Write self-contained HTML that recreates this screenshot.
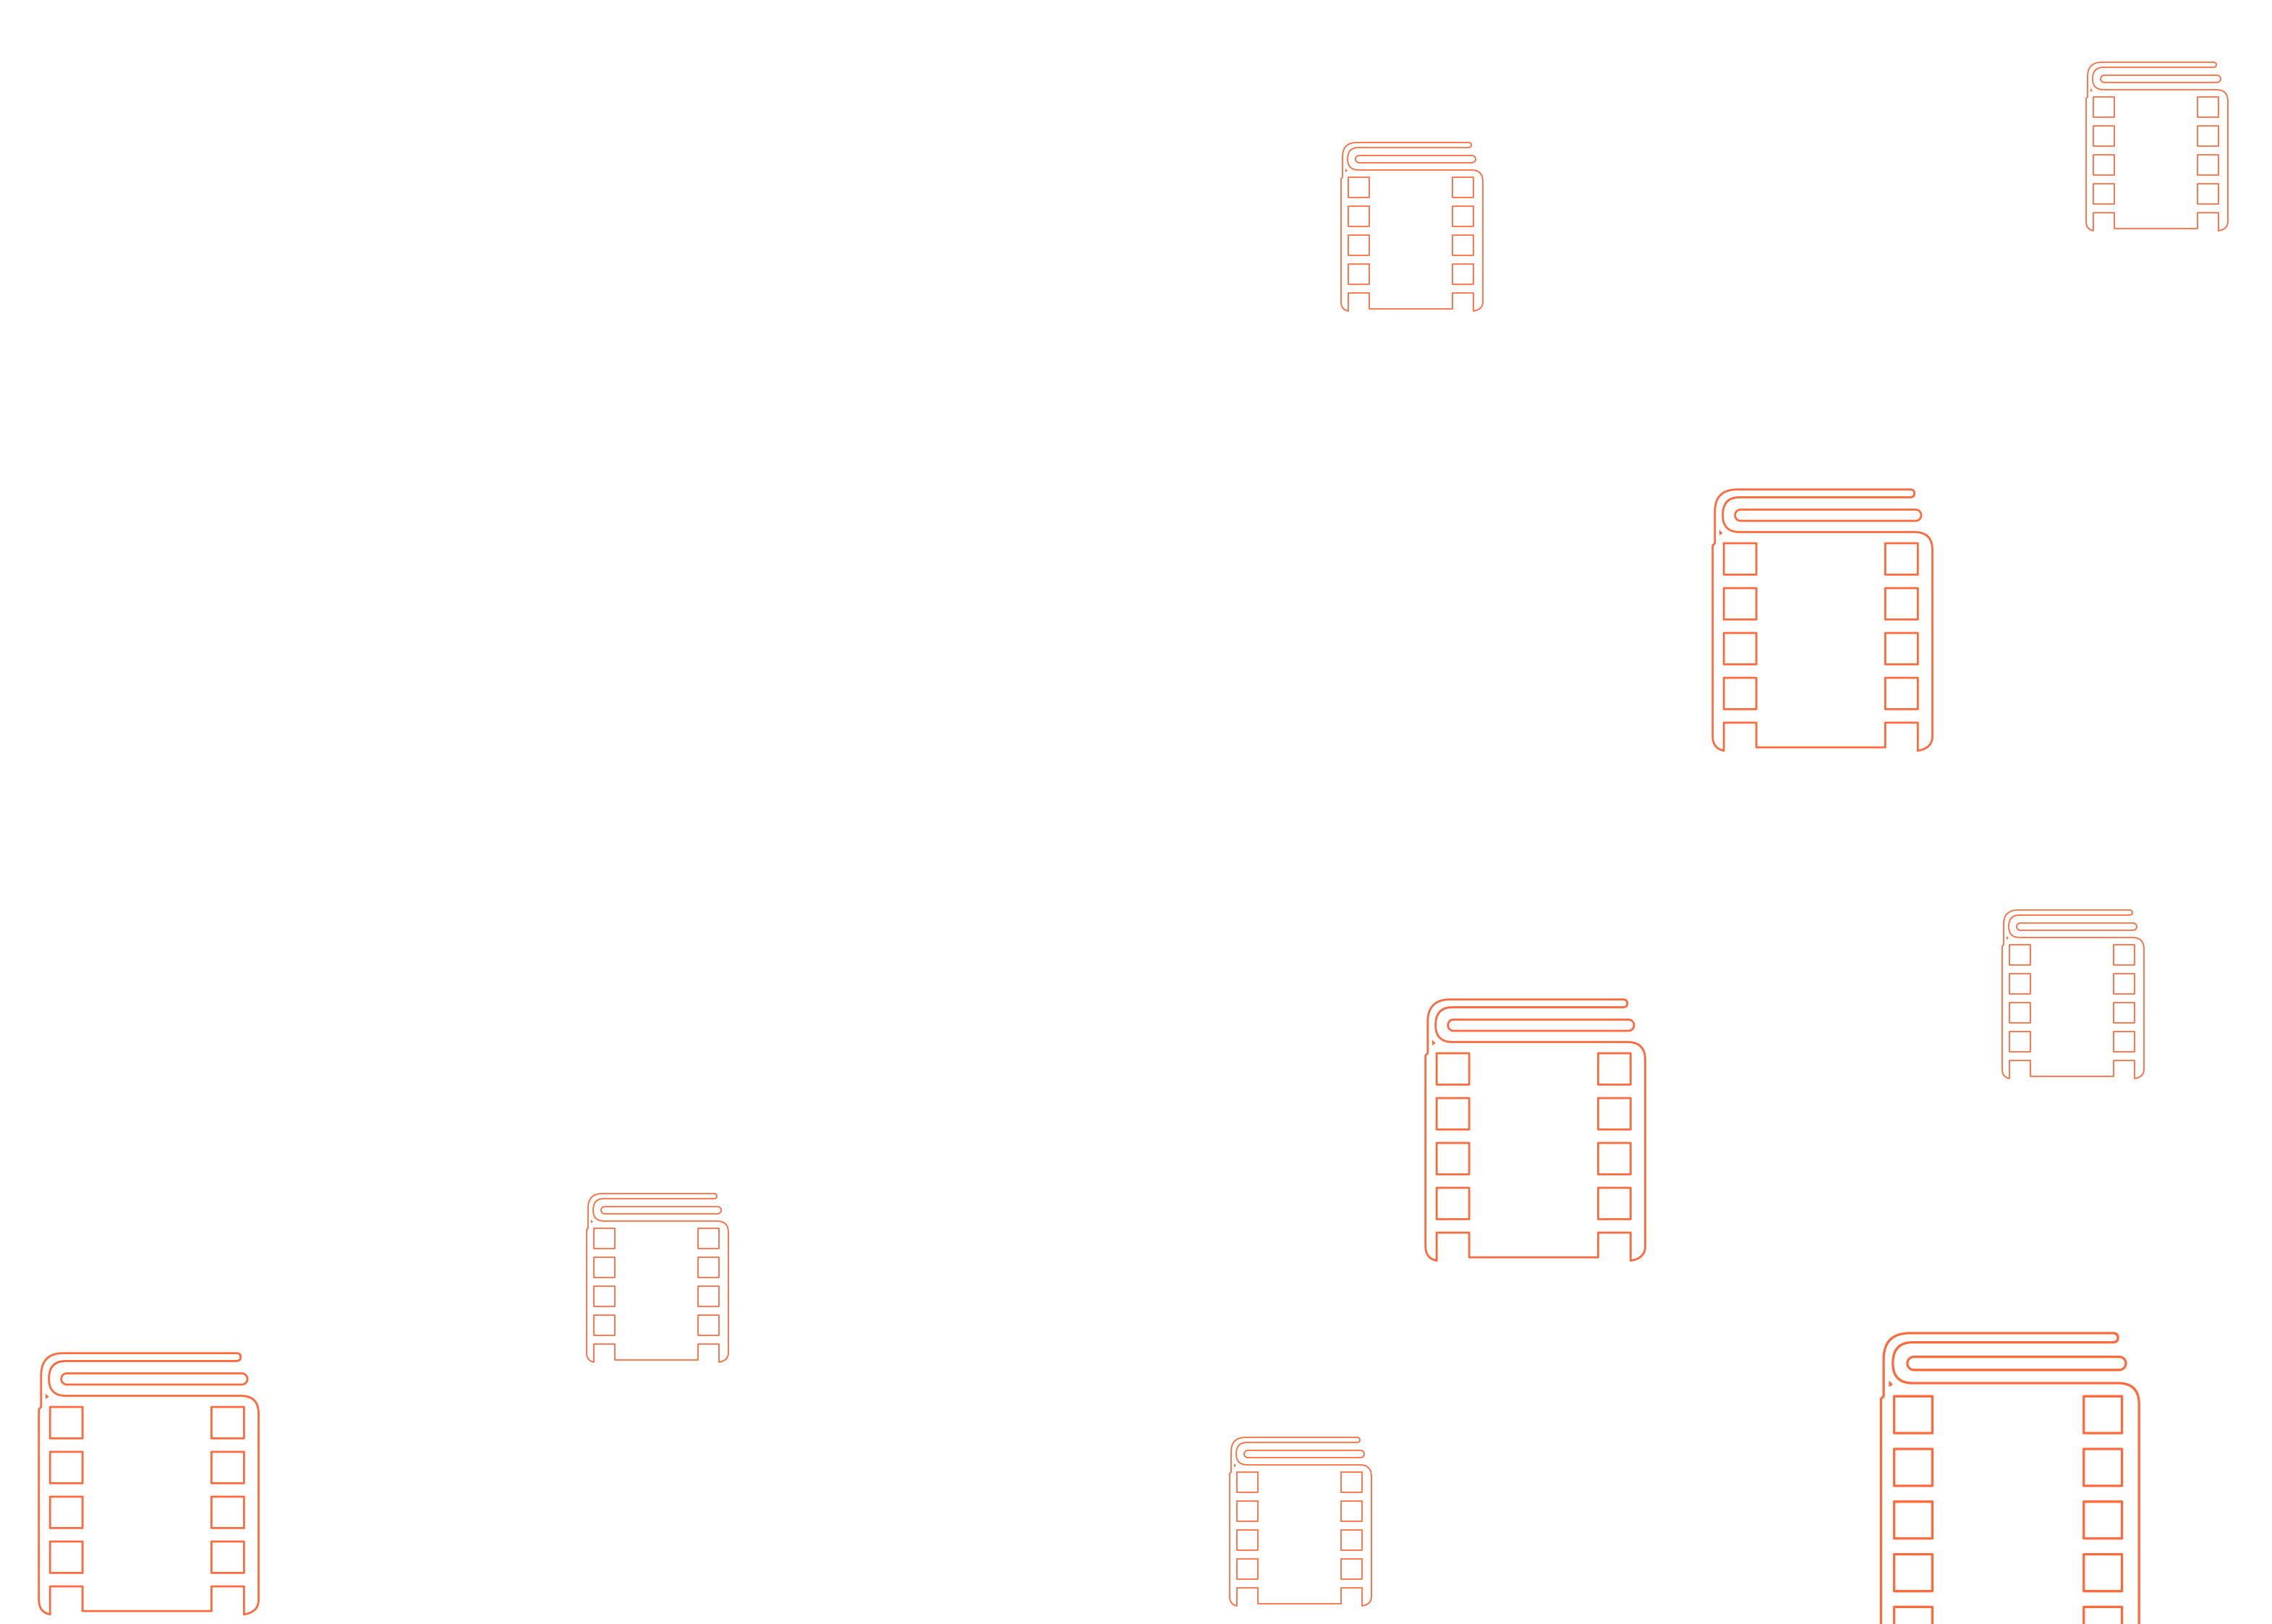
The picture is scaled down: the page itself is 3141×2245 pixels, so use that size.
<!DOCTYPE html>
<html><head><meta charset="utf-8"><style>
html,body{margin:0;padding:0;background:#fff;}
svg{display:block}
</style></head><body>
<svg width="3141" height="2245" viewBox="0 0 3141 2245" xmlns="http://www.w3.org/2000/svg">
<defs>
<g id="ic" fill="none" stroke="#ff6a3d" stroke-width="1.8" stroke-linejoin="round">
<path d="M190,12 L36,12 Q16,12 16,32 L16,60 L14,62 L14,232 Q14,243 24,245 L24,220 L53,220 L53,242 L168,242 L168,220 L197,220 L197,245 Q210,243 210,232 L210,66 Q210,50 194,50 L38,50 Q23,50 23,35 Q23,19 38,19 L190,19 Q194,19 194,15.5 Q194,12 190,12 Z"/>
<rect x="34" y="30" width="166" height="10" rx="5"/>
<rect x="24" y="60" width="29" height="28"/><rect x="168" y="60" width="29" height="28"/>
<rect x="24" y="100" width="29" height="28"/><rect x="168" y="100" width="29" height="28"/>
<rect x="24" y="140" width="29" height="28"/><rect x="168" y="140" width="29" height="28"/>
<rect x="24" y="180" width="29" height="28"/><rect x="168" y="180" width="29" height="28"/>
<path d="M20,48 L23,51 L20,53 Z" fill="#ff6a3d" stroke="none"/>
</g>
</defs>
<use href="#ic" transform="translate(1840,185)"/>
<use href="#ic" transform="translate(2870,74)"/>
<use href="#ic" transform="translate(2346,658) scale(1.55)"/>
<use href="#ic" transform="translate(2754,1246)"/>
<use href="#ic" transform="translate(1949,1363) scale(1.55)"/>
<use href="#ic" transform="translate(797,1638)"/>
<use href="#ic" transform="translate(32,1852) scale(1.55)"/>
<use href="#ic" transform="translate(1686,1975)"/>
<use href="#ic" transform="translate(2575,1821) scale(1.82)"/>
</svg>
</body></html>
